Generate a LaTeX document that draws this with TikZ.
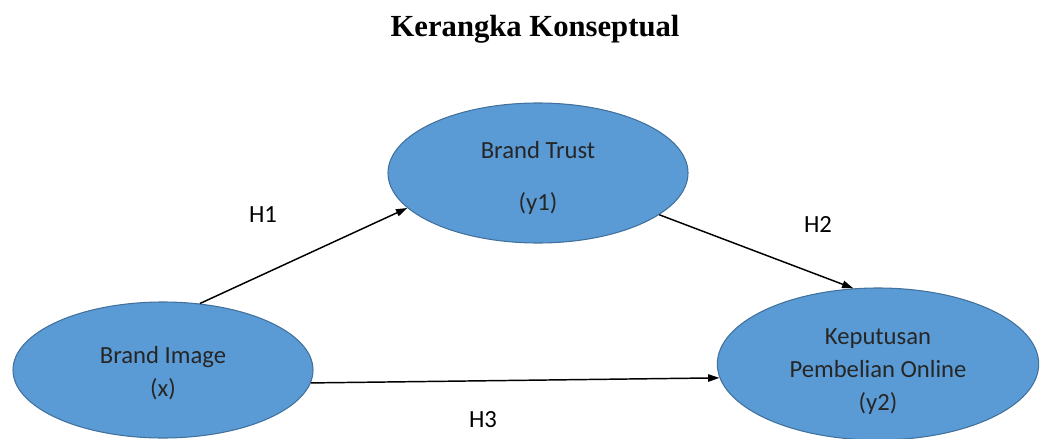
\documentclass[tikz,border=0pt]{standalone}
\usepackage{fontspec}
\setmainfont{Carlito}
\newfontfamily\titlefont{Liberation Serif}
\usetikzlibrary{positioning,arrows.meta,shapes.geometric}
\definecolor{varfill}{HTML}{5B9BD5}
\definecolor{varline}{HTML}{41719C}
% taller first line pushes the text block down inside the ellipse
\newcommand{\topgap}[1]{\rule{0pt}{#1}}
\tikzset{
  var/.style  = {draw=varline, fill=varfill, ellipse, inner sep=0pt,
                 align=center, font=\fontsize{18.5}{24.75}\selectfont,
                 text=black!85, line width=0.8pt},
  ar/.style   = {-{Triangle[length=8.5pt,width=5.5pt]}, line width=1.1pt},
  lbl/.style  = {font=\fontsize{18.5}{22}\selectfont, inner sep=1pt},
}
\begin{document}
\begin{tikzpicture}[x=0.75pt, y=-0.75pt]
\useasboundingbox (0,0) rectangle (1043,439);

% --- title ---
\node[font=\titlefont\bfseries\fontsize{23}{28}\selectfont] (title) at (535,29)
     {Kerangka Konseptual};

% --- variables ---
\node[var, minimum width=225pt, minimum height=105pt] (trust) at (538,173)
     {\topgap{20pt}Brand Trust\\[14pt](y1)};
\node[var, minimum width=225pt, minimum height=102pt] (image) at (163,370)
     {\topgap{17.5pt}Brand Image\\(x)};
\node[var, minimum width=241pt, minimum height=114pt] (decision) at (878,364)
     {\topgap{22.5pt}Keputusan\\Pembelian Online\\(y2)};

% --- hypotheses ---
\draw[ar] (image.61) -- (trust.195);
\draw[ar] (trust.341) -- (decision.108);
\draw[ar] (image.355) -- (decision.185);

\node[lbl] (h1) at (263,215) {H1};
\node[lbl] (h2) at (818,224) {H2};
\node[lbl] (h3) at (483,420) {H3};
\end{tikzpicture}
\end{document}
